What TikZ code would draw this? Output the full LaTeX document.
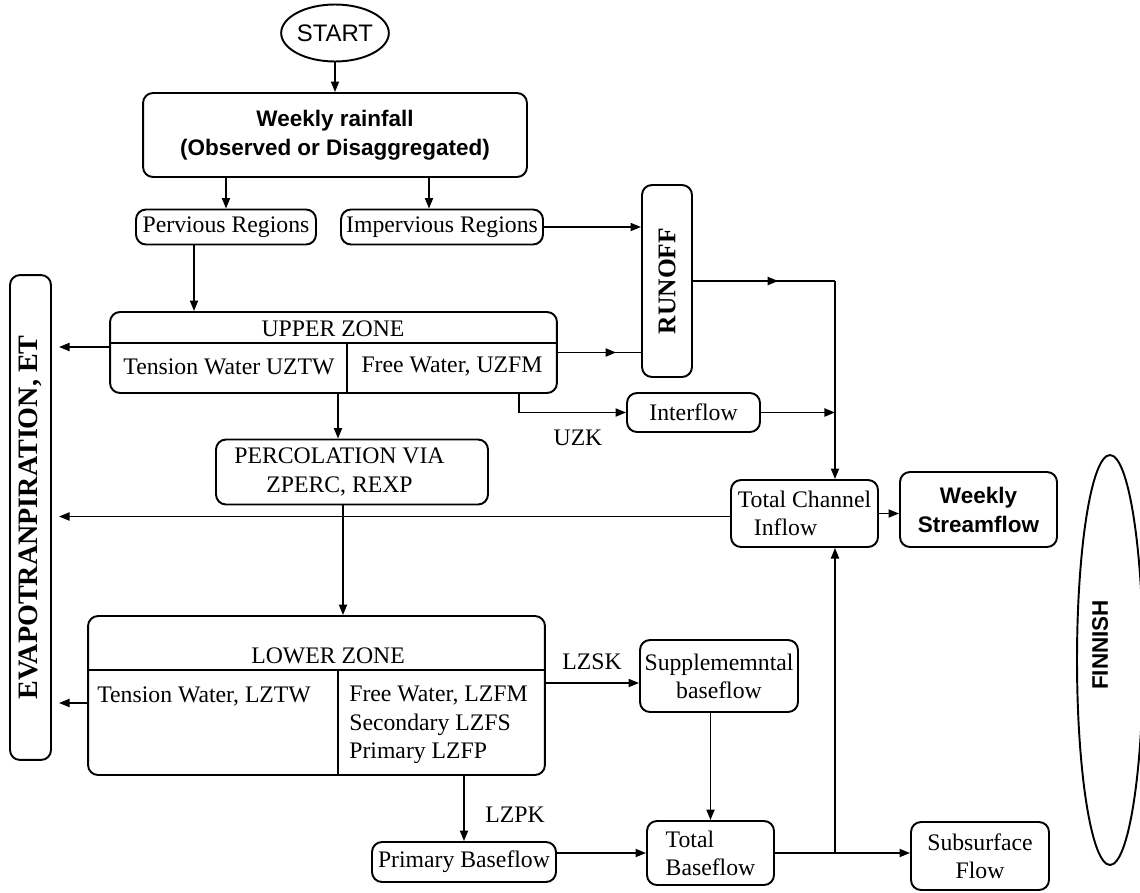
\documentclass[tikz,border=0pt]{standalone}
\usepackage{fontspec}
\setmainfont{Liberation Serif}
\setsansfont{Liberation Sans}
\usetikzlibrary{arrows.meta,shapes.geometric,decorations.markings}

\tikzset{
  box/.style={draw, line width=1.1pt, rounded corners=0.2cm, inner sep=1pt, align=center,
    font=\fontsize{13.5}{16}\selectfont},
  sbox/.style={box, font=\sffamily\bfseries\fontsize{12.8}{16.5}\selectfont},
  lbl/.style={inner sep=0pt, font=\fontsize{13.5}{16}\selectfont},
  vlbl/.style={rotate=90, inner sep=0pt, font=\bfseries\fontsize{14.5}{16}\selectfont},
  flow/.style={line width=1pt},
  tip/.style={flow, -{Triangle[length=6pt,width=4.6pt]}},
  midtip/.style={flow, postaction={decorate, decoration={markings,
      mark=at position #1 with {\arrow{Triangle[length=6pt,width=4.6pt]}}}}},
}

\begin{document}
\begin{tikzpicture}[x=0.02cm, y=-0.02cm]
\useasboundingbox (0,0) rectangle (1140,893);

% start and rainfall input
\node[draw, ellipse, line width=1.1pt, minimum width=2.08cm, minimum height=1.14cm, inner sep=0pt,
  font=\sffamily\fontsize{13.6}{16}\selectfont] (start) at (335,33) {START};
\node[sbox, minimum width=7.68cm, minimum height=1.68cm] (rain) at (335,135)
  {Weekly rainfall\\(Observed or Disaggregated)};
\node[box, minimum width=3.6cm, minimum height=0.7cm] (perv) at (226,227) {Pervious Regions};
\node[box, minimum width=4.04cm, minimum height=0.7cm] (imp) at (442,227) {Impervious Regions};

% runoff
\node[box, minimum width=1cm, minimum height=3.84cm] (runoff) at (667,281) {};
\node[vlbl] (runofflbl) at (runoff) {RUNOFF};

% evapotranspiration column
\node[box, minimum width=0.82cm, minimum height=9.7cm] (et) at (30.5,517.5) {};
\node[vlbl, font=\bfseries\fontsize{16}{16}\selectfont] (etlbl) at (et) {EVAPOTRANPIRATION, ET};

% upper zone
\node[box, minimum width=8.94cm, minimum height=1.62cm] (uz) at (333.5,352.5) {};
\coordinate (uzsplit) at (347,343);
\draw[line width=1.1pt] (uz.west |- uzsplit) -- (uz.east |- uzsplit);
\draw[line width=1.1pt] (uzsplit) -- (uzsplit |- uz.south);
\node[lbl] (uzhead) at (333,329) {UPPER ZONE};
\node[lbl] (uztw) at (229,367) {Tension Water UZTW};
\node[lbl] (uzfw) at (452,367) {Free Water, UZFM};

\node[box, minimum width=5.44cm, minimum height=1.3cm] (perc) at (352,472)
  {PERCOLATION VIA\hspace*{0.5cm}\\ZPERC, REXP\hspace*{0.5cm}};
\node[box, minimum width=2.66cm, minimum height=0.78cm] (iflow) at (693.5,412.5) {Interflow};
\node[lbl] (uzk) at (578,438) {UZK};

% channel
\node[box, minimum width=2.94cm, minimum height=1.34cm] (tci) at (804.5,513.5)
  {Total Channel\\Inflow\hspace*{0.76cm}};
\node[sbox, minimum width=3.14cm, minimum height=1.5cm] (ws) at (978.5,509.5)
  {Weekly\\Streamflow};

% lower zone
\node[box, minimum width=9.14cm, minimum height=3.18cm] (lz) at (316.5,695.5) {};
\coordinate (lzsplit) at (338,670);
\draw[line width=1.1pt] (lz.west |- lzsplit) -- (lz.east |- lzsplit);
\draw[line width=1.1pt] (lzsplit) -- (lzsplit |- lz.south);
\node[lbl] (lzhead) at (328,656) {LOWER ZONE};
\node[lbl, anchor=west] (lztw) at (97,696) {Tension Water, LZTW};
\node[lbl, anchor=north west, align=left] (lzfw) at (349,686)
  {Free Water, LZFM\\Secondary LZFS\\Primary LZFP};

% baseflow
\node[box, minimum width=3.16cm, minimum height=1.44cm] (sup) at (719,676) {Supplememntal\\baseflow};
\node[lbl] (lzsk) at (592,662) {LZSK};
\node[box, minimum width=3.68cm, minimum height=0.8cm] (pbf) at (464,862) {Primary Baseflow};
\node[lbl] (lzpk) at (515,815) {LZPK};
\node[box, align=left, minimum width=2.54cm, minimum height=1.28cm] (tb) at (710.5,853) {Total\\Baseflow};
\node[box, minimum width=2.76cm, minimum height=1.36cm] (sub) at (980,856) {Subsurface\\Flow};

% finish
\node[draw, ellipse, line width=1.1pt, minimum width=1.32cm, minimum height=8.2cm] (fin) at (1110,660) {};
\node[vlbl, font=\sffamily\bfseries\fontsize{12.8}{16}\selectfont] (finlbl) at (1100,645) {FINNISH};

% connectors
\coordinate (jr) at (835,281);
\draw[tip] (start) -- (start |- rain.north);
\draw[tip] (rain.south -| perv) -- (perv);
\draw[tip] ([xshift=-0.26cm]imp.north |- rain.south) -- ([xshift=-0.26cm]imp.north);
\draw[tip] ([xshift=-0.64cm]perv.south) -- ([xshift=-0.64cm]perv.south |- uz.north);
\draw[tip] (imp.east) -- (imp.east -| runoff.west);
\draw[midtip=0.7] (uz.east) -- (uz.east -| runoff.west);
\draw[midtip=0.6] (runoff.east) -- (jr);
\draw[tip] (jr) -- (jr |- tci.north);
\draw[tip] ([xshift=3.71cm]uz.south) |- (iflow.west);
\draw[tip] (iflow.east) -- (iflow.east -| jr);
\draw[tip] ([xshift=-0.28cm]perc.north |- uz.south) -- ([xshift=-0.28cm]perc.north);
\draw[tip] ([xshift=-0.18cm]perc.south) -- ([xshift=-0.18cm]perc.south |- lz.north);
\draw[tip, shorten >=4pt] ([yshift=0.11cm]uz.west) -- ([yshift=0.11cm]uz.west -| et.east);
\draw[tip, shorten >=4pt] ([yshift=-0.06cm]tci.west) -- ([yshift=-0.06cm]tci.west -| et.east);
\draw[tip, shorten >=4pt] ([yshift=-0.15cm]lz.west) -- ([yshift=-0.15cm]lz.west -| et.east);
\draw[tip] (tci.east) -- (tci.east -| ws.west);
\draw[tip] ([yshift=-0.14cm]sup.west -| lz.east) -- ([yshift=-0.14cm]sup.west);
\draw[tip] (tb.north |- sup.south) -- (tb.north);
\draw[tip] (pbf.north |- lz.south) -- (pbf.north);
\draw[tip] (pbf.east |- tb) -- (tb.west);
\draw[tip] (tb.east) -- (tb.east -| sub.west);
\draw[tip] (tb.east -| jr) -- (jr |- tci.south);
\end{tikzpicture}
\end{document}
